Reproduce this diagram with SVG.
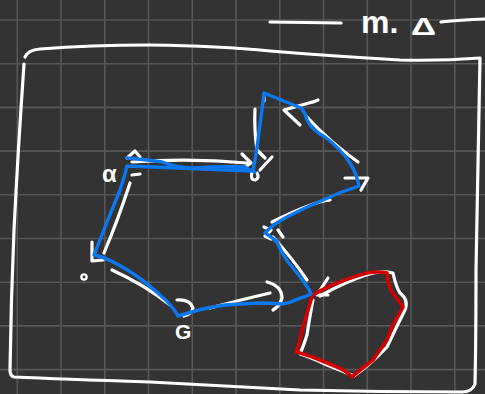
<svg xmlns="http://www.w3.org/2000/svg" width="485" height="394" viewBox="0 0 485 394">
<style>
.g{fill:none;stroke:#575757;stroke-width:1.6}
.w{fill:none;stroke:#ffffff;stroke-width:3.2;stroke-linecap:round;stroke-linejoin:round}
.b{fill:none;stroke:#0a78f0;stroke-width:3.4;stroke-linecap:round;stroke-linejoin:round}
.r{fill:none;stroke:#d40000;stroke-width:3.6;stroke-linecap:round;stroke-linejoin:round}
.t{fill:#ffffff;font-family:"Liberation Sans","DejaVu Sans",sans-serif}
</style>
<rect width="485" height="394" fill="#333333"/>
<g id="grid">
<path class="g" d="M17.3 0V394 M61 0V394 M104.8 0V394 M148.5 0V394 M192.3 0V394 M236 0V394 M279.8 0V394 M323.5 0V394 M367.3 0V394 M411 0V394 M454.8 0V394"/>
<path class="g" d="M0 20H485 M0 63.7H485 M0 107.4H485 M0 151.1H485 M0 194.8H485 M0 238.5H485 M0 282.2H485 M0 325.9H485 M0 369.6H485"/>
</g>
<g id="title">
<path class="w" d="M270 22 L341 23"/>
<text class="t" y="33" font-size="32" font-weight="bold"><tspan x="361">m.</tspan></text>
<text class="t" font-size="24" font-weight="bold" transform="translate(411 35) scale(1.45 1)">Δ</text>
<path class="w" d="M441 22 Q460 20 485 19"/>
</g>
<g id="frame">
<path class="w" d="M25 57 Q28 50 40 49 Q90 45 150 45 Q220 46 270 51 Q330 56 400 60 Q440 61 480 58 Q478 150 476 270 Q476 340 475 384 Q472 392 462 392 Q380 392 300 390 Q200 385 150 382 Q60 379 14 377 Q10 376 10 370 Q11 300 14 230 Q18 150 24 64"/>
</g>
<g id="connectors">
<path class="w" d="M132 162 Q190 158 247 163"/>
<path class="w" d="M242 154 L251 163 L245 167"/>
<path class="w" d="M127 158 L135 151 L140 157"/>
<path class="w" d="M132 175 L140 174"/>
<path class="w" d="M130 183 Q118 220 104 253"/>
<path class="w" d="M92 242 L92 261 L103 260"/>
<path class="w" d="M112 270 Q145 285 170 305"/>
<path class="w" d="M177 300 Q190 299 193 308 Q192 314 184 316"/>
<path class="w" d="M210 308 Q240 300 270 293"/>
<path class="w" d="M267 282 Q282 286 282 298 Q280 306 273 310"/>
<path class="w" d="M273 237 Q292 258 307 280"/>
<path class="w" d="M278 230 L283 237"/>
<path class="w" d="M272 222 Q312 202 330 200"/>
<path class="w" d="M345 178 L368 178 L361 190"/>
<path class="w" d="M358 162 Q330 142 307 117"/>
<path class="w" d="M313 102 L318 100 M316 101 L284 110 L300 125"/>
<path class="w" d="M255 109 Q254 130 257 150 L265 158"/>
<path class="w" d="M272 157 L260 170"/>
<path class="w" d="M264 97 L264 101"/>
<path class="w" d="M328 278 L317 295 L328 295"/>
</g>
<g id="labels">
<text class="t" x="102" y="182" font-size="24" font-weight="bold">α</text>
<text class="t" x="175" y="339" font-size="21" font-weight="bold">G</text>
<circle cx="84" cy="277" r="2.6" fill="none" stroke="#ffffff" stroke-width="2.4"/>
<path class="w" d="M252 172 Q250 180 255 180 Q260 178 257 173"/>
<path class="w" d="M264 227 L271 230 L265 236 L271 239"/>
</g>
<g id="red-shape">
<path class="w" d="M320 296 Q345 282 366 275 Q380 270 393 273 Q396 287 400 293 Q409 300 405 310 Q395 330 387 347 Q370 365 354 376 Q340 370 327 365 Q310 357 300 354 Q304 345 307 335 Q310 315 313 300"/>
<path class="r" d="M313 295 Q330 285 340 282 Q355 276 367 273 Q378 271 387 273 Q388 285 392 292 Q398 300 403 307 Q398 316 395 321 Q390 332 387 340 Q380 350 373 360 Q360 370 352 377 Q345 370 337 367 Q325 362 320 360 Q305 354 296 352 Q299 345 300 340 Q302 330 302 330 Q306 318 308 310 Q311 300 312 297"/>
</g>
<g id="blue-shape">
<path class="b" d="M127 158 Q150 160 162 162 Q178 168 195 168 Q220 166 245 167 L252 171 L255 172 M252 171 L240 168 M253 171 Q257 150 259 132 Q262 110 264 93 L301 108 Q305 112 307 120 Q312 130 325 137 Q340 148 350 163 Q356 172 359 186 Q340 192 323 200 Q300 210 285 218 Q272 225 265 233 Q273 238 277 242 Q281 252 288 262 Q300 276 306 285 Q310 290 311 294 Q305 297 298 299 Q290 303 282 304 Q270 303 258 303 Q240 304 225 305 Q205 308 195 311 Q185 314 178 316 Q172 305 160 295 Q148 284 138 277 Q125 268 115 263 Q104 257 94 255 Q100 240 107 222 Q114 205 120 190 Q125 175 127 166 Z"/>
</g>
</svg>
